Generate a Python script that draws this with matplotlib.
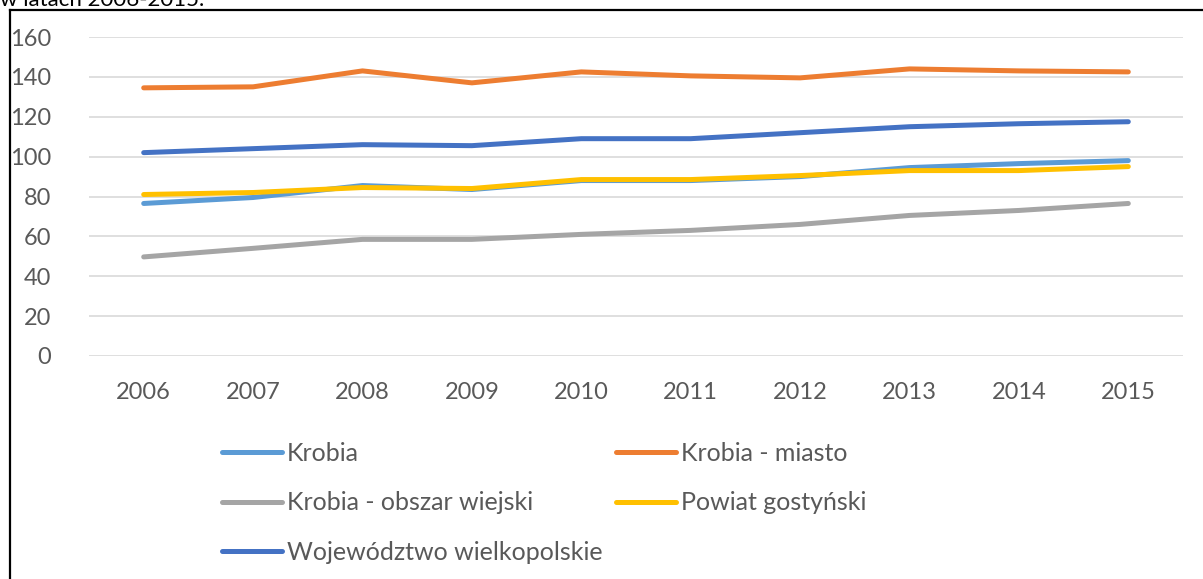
import numpy as np
import matplotlib.pyplot as plt
from matplotlib.lines import Line2D

# data
years = ["2006", "2007", "2008", "2009", "2010", "2011", "2012", "2013", "2014", "2015"]

krobia = [76.5, 79.5, 85.5, 83.5, 88, 88, 90, 94.5, 96.5, 98]
krobia_miasto = [134.5, 135, 143, 137, 142.5, 140.5, 139.5, 144, 143, 142.5]
krobia_wies = [49.7, 54, 58.5, 58.5, 61, 63, 66, 70.5, 73, 76.5]
powiat = [81, 82, 84.5, 84, 88.5, 88.5, 90.5, 93, 93, 95]
wojewodztwo = [102, 104, 106, 105.5, 109, 109, 112, 115, 116.5, 117.5]

labels = [
    "Krobia",
    "Krobia - miasto",
    "Krobia - obszar wiejski",
    "Powiat gostyński",
    "Województwo wielkopolskie",
]
colors = ["#5B9BD5", "#ED7D31", "#A5A5A5", "#FFC000", "#4472C4"]
series = [krobia, krobia_miasto, krobia_wies, powiat, wojewodztwo]

plt.rcParams["font.family"] = ["Lato", "DejaVu Sans"]

W, H = 1203, 579
fig = plt.figure(figsize=(W / 100, H / 100), dpi=100)
ax = fig.add_axes([89 / W, 223 / H, (1183 - 89) / W, (356 - 37) / H])

x = np.arange(len(years))
lines = []
for vals, lab, col in zip(series, labels, colors):
    ln, = ax.plot(x, vals, color=col, lw=3.6, label=lab, solid_capstyle="round")
    lines.append(ln)

ax.set_xlim(-0.5, len(years) - 0.5)
ax.set_ylim(0, 160)
ax.set_yticks(np.arange(0, 161, 20))
ax.set_xticks(x)
ax.set_xticklabels(years)
ax.tick_params(length=0, labelsize=17, labelcolor="#595959")
ax.tick_params(axis="x", pad=19)
ax.tick_params(axis="y", pad=27)
ax.grid(axis="y", color="#D9D9D9", lw=1.2)
ax.set_axisbelow(True)
for s in ax.spines.values():
    s.set_visible(False)

# legend, row-major order like the original
order = [0, 2, 4, 1, 3]
leg = fig.legend(
    [lines[i] for i in order],
    [labels[i] for i in order],
    ncol=2,
    loc="upper left",
    bbox_to_anchor=(222 / W, 1 - 442 / H),
    frameon=False,
    fontsize=18,
    handlelength=2.4,
    handletextpad=0.2,
    columnspacing=0.52,
    labelspacing=1.05,
    borderaxespad=0,
    borderpad=0,
)
for t in leg.get_texts():
    t.set_color("#595959")

# frame around chart (left and top edges visible)
fig.add_artist(Line2D([10 / W, 10 / W], [0, 1 - 10 / H], color="black", lw=1.6))
fig.add_artist(Line2D([10 / W, 1], [1 - 10 / H, 1 - 10 / H], color="black", lw=1.6))

# caption cut off at the top
fig.text(0.0, 1 - 6 / H, "w latach 2006-2015.", fontsize=16, va="baseline", ha="left")

fig.savefig("out.png", dpi=100)
